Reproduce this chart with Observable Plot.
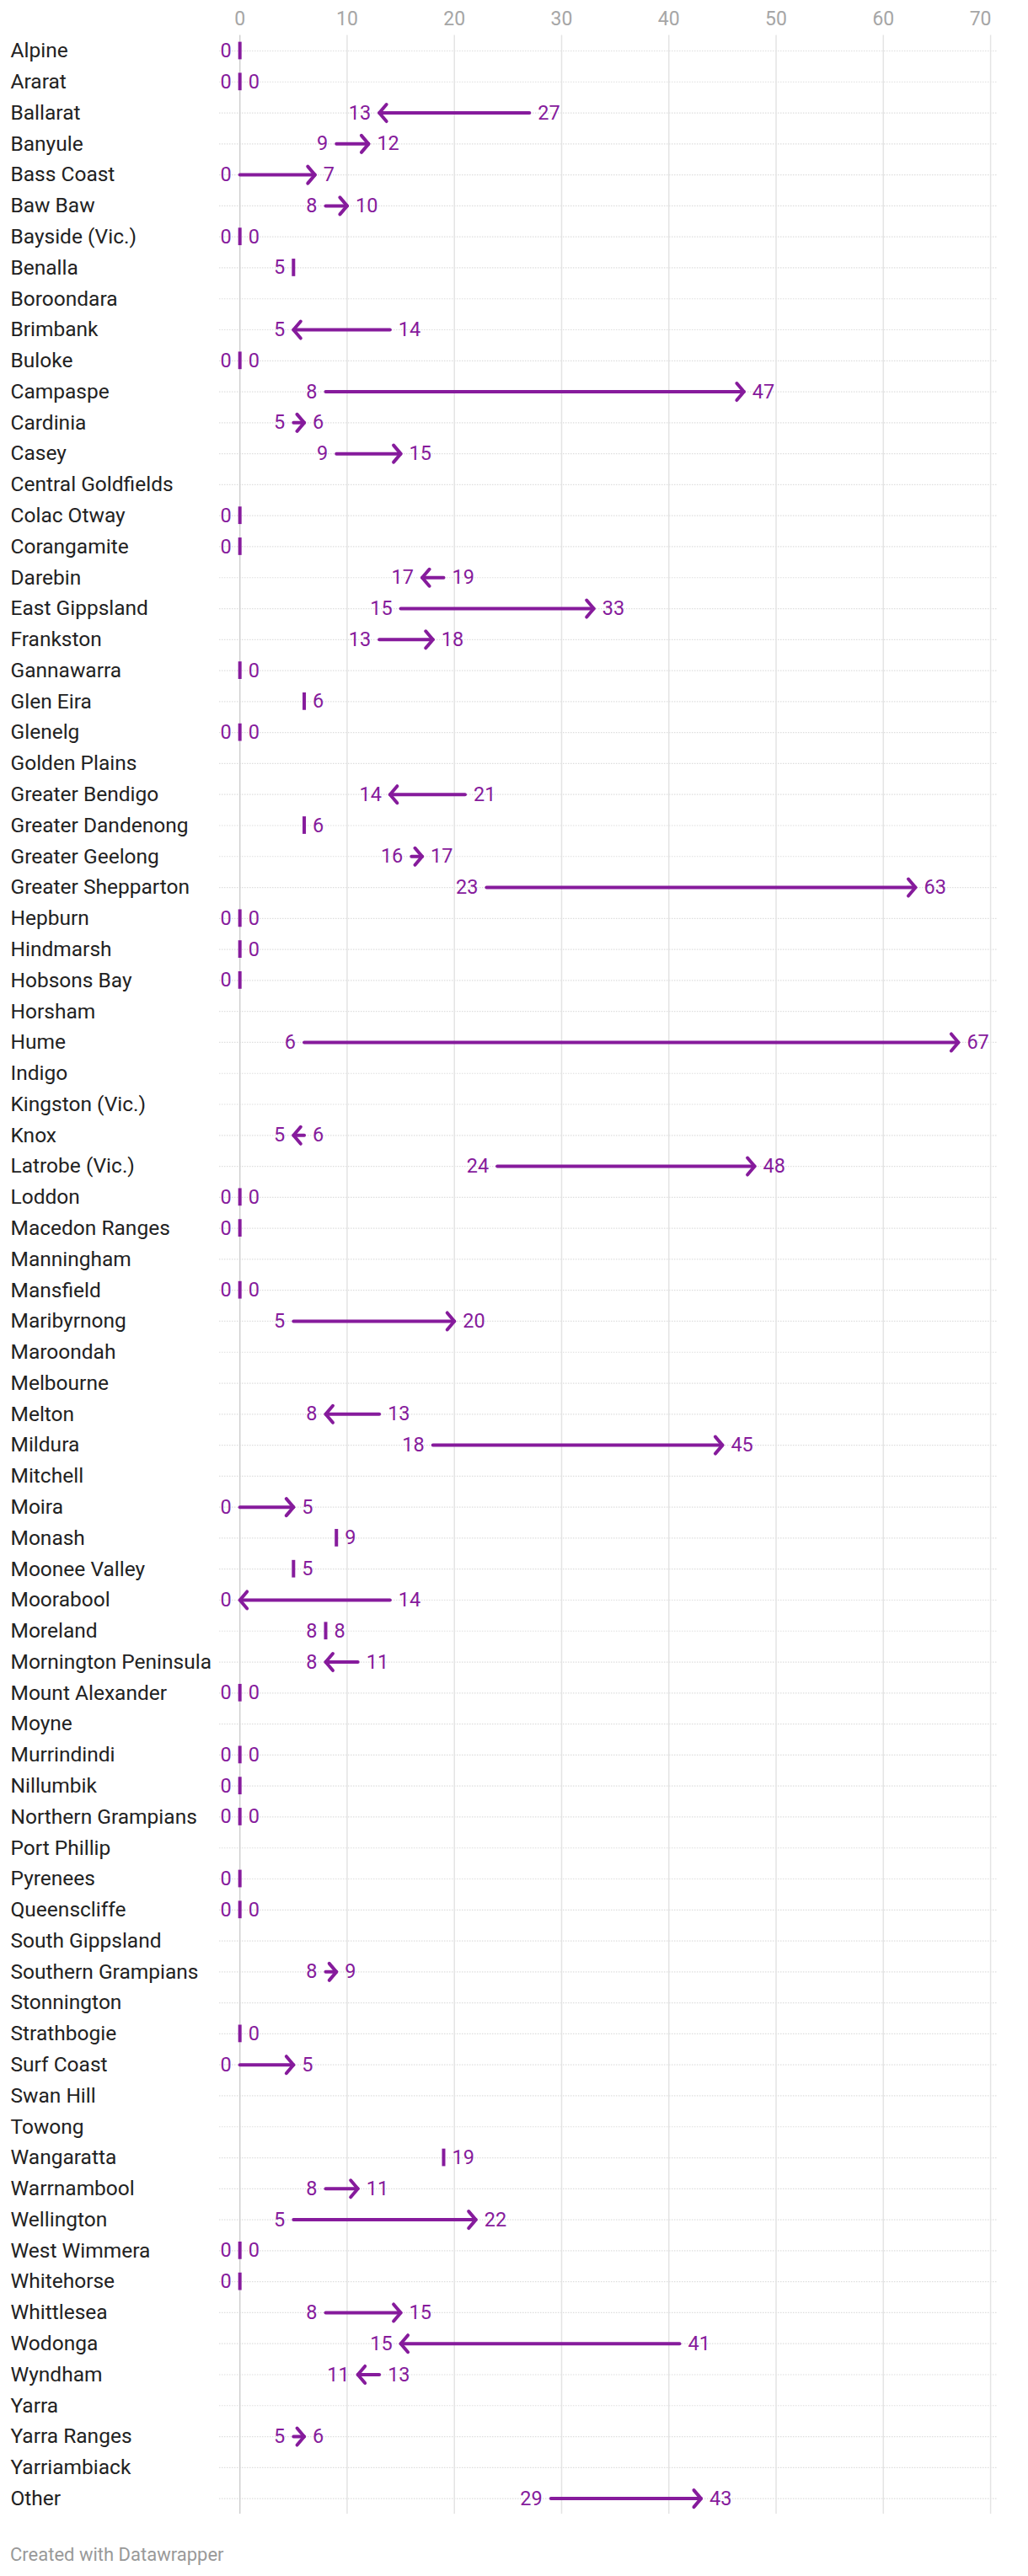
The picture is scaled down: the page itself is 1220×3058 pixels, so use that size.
<!DOCTYPE html>
<html>
<head>
<meta charset="utf-8">
<script src="https://cdn.jsdelivr.net/npm/d3@7"></script>
<script src="https://cdn.jsdelivr.net/npm/@observablehq/plot@0.6"></script>
<style>
  html, body { margin: 0; padding: 0; background: #fff; }
  #chart svg { display: block; }
  .footer { font-family: Roboto, sans-serif; font-size: 22px; color: #999; padding-left: 12px; margin-top: 16px; line-height: 24px; }
</style>
</head>
<body>
<div id="chart"></div>
<div class="footer">Created with Datawrapper</div>
<script>
const names = [
  "Alpine","Ararat","Ballarat","Banyule","Bass Coast","Baw Baw","Bayside (Vic.)","Benalla","Boroondara","Brimbank",
  "Buloke","Campaspe","Cardinia","Casey","Central Goldfields","Colac Otway","Corangamite","Darebin","East Gippsland","Frankston",
  "Gannawarra","Glen Eira","Glenelg","Golden Plains","Greater Bendigo","Greater Dandenong","Greater Geelong","Greater Shepparton","Hepburn","Hindmarsh",
  "Hobsons Bay","Horsham","Hume","Indigo","Kingston (Vic.)","Knox","Latrobe (Vic.)","Loddon","Macedon Ranges","Manningham",
  "Mansfield","Maribyrnong","Maroondah","Melbourne","Melton","Mildura","Mitchell","Moira","Monash","Moonee Valley",
  "Moorabool","Moreland","Mornington Peninsula","Mount Alexander","Moyne","Murrindindi","Nillumbik","Northern Grampians","Port Phillip","Pyrenees",
  "Queenscliffe","South Gippsland","Southern Grampians","Stonnington","Strathbogie","Surf Coast","Swan Hill","Towong","Wangaratta","Warrnambool",
  "Wellington","West Wimmera","Whitehorse","Whittlesea","Wodonga","Wyndham","Yarra","Yarra Ranges","Yarriambiack","Other"
];
// null = no value
const startValues = [
  0, 0, 27, 9, 0, 8, 0, 5, null, 14,
  0, 8, 5, 9, null, 0, 0, 19, 15, 13,
  null, null, 0, null, 21, null, 16, 23, 0, null,
  0, null, 6, null, null, 6, 24, 0, 0, null,
  0, 5, null, null, 13, 18, null, 0, null, null,
  14, 8, 11, 0, null, 0, 0, 0, null, 0,
  0, null, 8, null, null, 0, null, null, null, 8,
  5, 0, 0, 8, 41, 13, null, 5, null, 29
];
const endValues = [
  null, 0, 13, 12, 7, 10, 0, null, null, 5,
  0, 47, 6, 15, null, null, null, 17, 33, 18,
  0, 6, 0, null, 14, 6, 17, 63, 0, 0,
  null, null, 67, null, null, 5, 48, 0, null, null,
  0, 20, null, null, 8, 45, null, 5, 9, 5,
  0, 8, 8, 0, null, 0, null, 0, null, null,
  0, null, 9, null, 0, 5, null, null, 19, 11,
  22, 0, null, 15, 15, 11, null, 6, null, 43
];
const xTicks = [0, 10, 20, 30, 40, 50, 60, 70];
const xDomain = [-1.9, 70.7];
const purple = "#861b9c";

const rows = names.map((name, i) => ({name, start: startValues[i], end: endValues[i]}));
const has = v => v !== null && v !== undefined;
const arrows = rows.filter(d => has(d.start) && has(d.end) && d.start !== d.end);
const ticks = rows
  .filter(d => (has(d.start) !== has(d.end)) || (has(d.start) && d.start === d.end))
  .map(d => ({name: d.name, value: has(d.start) ? d.start : d.end}));
const leftLabels = rows
  .filter(d => has(d.start))
  .map(d => ({name: d.name, value: has(d.end) ? Math.min(d.start, d.end) : d.start}));
const rightLabels = rows
  .filter(d => has(d.end))
  .map(d => ({name: d.name, value: has(d.start) ? Math.max(d.start, d.end) : d.end}));

// open chevron arrowhead pointing right, tip at origin
const chevron = {
  draw(context, size) {
    const h = Math.sqrt(size / Math.PI);
    context.moveTo(-h * 0.85, -h);
    context.lineTo(0, 0);
    context.lineTo(-h * 0.85, h);
  }
};

const chart = Plot.plot({
  width: 1220,
  height: 3005,
  marginLeft: 260,
  marginRight: 36,
  marginTop: 41.6,
  marginBottom: 21,
  style: {fontFamily: "Roboto, sans-serif", background: "#fff"},
  x: {domain: xDomain, label: null},
  y: {domain: names, type: "band", padding: 0, label: null},
  marks: [
    Plot.ruleY(names, {y: d => d, stroke: "#dedede", strokeWidth: 1.2, strokeDasharray: "1.5,1.5"}),
    Plot.gridX({ticks: xTicks.filter(t => t !== 0), stroke: "#e4e4e4", strokeOpacity: 1, strokeWidth: 1.5}),
    Plot.gridX({ticks: xTicks.filter(t => t === 0), stroke: "#cfcfcf", strokeOpacity: 1, strokeWidth: 1.5}),
    Plot.axisX({anchor: "top", ticks: xTicks.slice(0, -1), tickSize: 0, tickPadding: 12, fontSize: 23, fill: "#a6a6a6", label: null}),
    Plot.axisX({anchor: "top", ticks: xTicks.slice(-1), tickSize: 0, tickPadding: 12, fontSize: 23, fill: "#a6a6a6", label: null, dx: -12}),
    Plot.axisY({anchor: "left", tickSize: 0, tickPadding: 0, textAnchor: "start", dx: -248, fontSize: 24.5, fill: "#222", label: null}),
    Plot.link(arrows, {x1: "start", x2: "end", y: "name", stroke: purple, strokeWidth: 4, strokeLinecap: "round"}),
    Plot.dot(arrows, {x: "end", y: "name", symbol: chevron, r: 10, stroke: purple, strokeWidth: 4, fill: "none",
      strokeLinejoin: "round", strokeLinecap: "round", rotate: d => d.end > d.start ? 0 : 180}),
    Plot.tickX(ticks, {x: "value", y: "name", stroke: purple, strokeWidth: 4, insetTop: 8, insetBottom: 8}),
    Plot.text(leftLabels, {x: "value", y: "name", text: d => String(d.value), textAnchor: "end", dx: -10, fill: purple, fontSize: 23.5}),
    Plot.text(rightLabels, {x: "value", y: "name", text: d => String(d.value), textAnchor: "start", dx: 10, fill: purple, fontSize: 23.5})
  ]
});
document.getElementById("chart").append(chart);
</script>
</body>
</html>
